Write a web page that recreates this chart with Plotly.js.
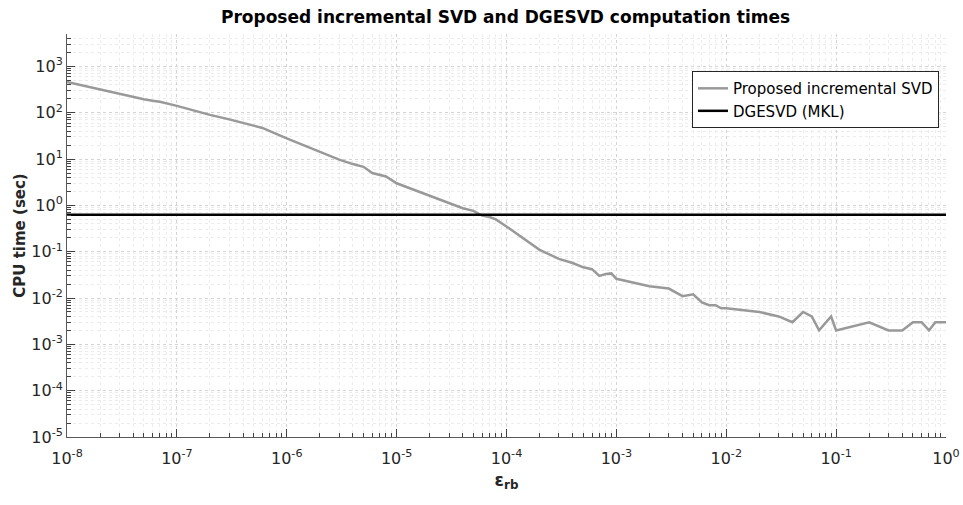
<!DOCTYPE html>
<html>
<head>
<meta charset="utf-8">
<script src="https://cdn.plot.ly/plotly-3.0.1.min.js"></script>
<style>html,body{margin:0;padding:0;background:#fff;}#chart{width:963px;height:505px;}</style>
</head>
<body>
<div id="chart"></div>
<script>
// Data
const epsRb = [1e-8, 2e-8, 4e-8, 5e-8, 6e-8, 7e-8, 1e-7, 2e-7, 3e-7, 6e-7, 1e-6, 2e-6, 3e-6, 4e-6, 5e-6, 6e-6, 7e-6, 8e-6, 1e-5, 2e-5, 3e-5, 4e-5, 5e-5, 6e-5, 7e-5, 8e-5, 1e-4, 2e-4, 3e-4, 4e-4, 5e-4, 6e-4, 7e-4, 8e-4, 9e-4, 1e-3, 2e-3, 3e-3, 4e-3, 5e-3, 6e-3, 7e-3, 8e-3, 9e-3, 1e-2, 2e-2, 3e-2, 4e-2, 5e-2, 6e-2, 7e-2, 9e-2, 1e-1, 2e-1, 3e-1, 4e-1, 5e-1, 6e-1, 7e-1, 8e-1, 1];
const incrementalSvdTime = [460, 313, 215, 195, 182, 172, 141, 90, 72, 47, 28, 14.6, 9.7, 7.8, 6.8, 5.0, 4.6, 4.2, 3.0, 1.6, 1.12, 0.87, 0.76, 0.60, 0.56, 0.50, 0.35, 0.11, 0.07, 0.057, 0.046, 0.042, 0.030, 0.033, 0.034, 0.026, 0.018, 0.016, 0.011, 0.012, 0.008, 0.007, 0.007, 0.006, 0.006, 0.005, 0.004, 0.003, 0.005, 0.004, 0.002, 0.004, 0.002, 0.003, 0.002, 0.002, 0.003, 0.003, 0.002, 0.003, 0.003];
const dgesvdX = [1e-8, 1];
const dgesvdTime = [0.63, 0.63];
const seriesNames = ["Proposed incremental SVD", "DGESVD (MKL)"];

const xTickVals = [1e-8, 1e-7, 1e-6, 1e-5, 1e-4, 1e-3, 1e-2, 1e-1, 1];
const xTickExps = ["-8", "-7", "-6", "-5", "-4", "-3", "-2", "-1", "0"];
const yTickVals = [1e-5, 1e-4, 1e-3, 1e-2, 1e-1, 1, 10, 100, 1000];
const yTickExps = ["-5", "-4", "-3", "-2", "-1", "0", "1", "2", "3"];

const FONT = "DejaVu Sans, Verdana, sans-serif";
const powLabel = e => "10<sup>" + e + "</sup>";

const axisCommon = {
  type: "log",
  tickmode: "array",
  showline: true,
  linecolor: "#595959",
  linewidth: 1,
  mirror: false,
  ticks: "inside",
  ticklen: 8,
  tickcolor: "#404040",
  tickfont: {family: FONT, size: 16, color: "#262626"},
  showgrid: true,
  gridcolor: "#d4d4d4",
  griddash: "dot",
  gridwidth: 1,
  zeroline: false,
  minor: {dtick: "D1", ticks: "inside", ticklen: 4, tickcolor: "#404040", showgrid: true, gridcolor: "#ececec", griddash: "dot", gridwidth: 1}
};

const data = [
  {x: epsRb, y: incrementalSvdTime, type: "scatter", mode: "lines", name: seriesNames[0],
   line: {color: "#999999", width: 2.5}},
  {x: dgesvdX, y: dgesvdTime, type: "scatter", mode: "lines", name: seriesNames[1],
   line: {color: "#000000", width: 2.5}}
];

const layout = {
  width: 963, height: 505,
  margin: {l: 67, r: 17, t: 34, b: 68},
  paper_bgcolor: "#ffffff",
  plot_bgcolor: "#ffffff",
  font: {family: FONT, color: "#262626"},
  title: {text: "<b>Proposed incremental SVD and DGESVD computation times</b>", font: {family: FONT, size: 17, color: "#000000"}, x: 0.525, xanchor: "center", y: 0.966, yanchor: "middle"},
  xaxis: Object.assign({}, axisCommon, {
    range: [-8, 0],
    tickvals: xTickVals,
    ticktext: xTickExps.map(powLabel),
    ticklabelstandoff: 7,
    title: {text: "<b>ε<sub>rb</sub></b>", font: {family: FONT, size: 17, color: "#262626"}, standoff: 6}
  }),
  yaxis: Object.assign({}, axisCommon, {
    range: [-5, 3.7],
    tickvals: yTickVals,
    ticktext: yTickExps.map(powLabel),
    title: {text: "<b>CPU time (sec)</b>", font: {family: FONT, size: 15, color: "#262626"}, standoff: 2}
  }),
  legend: {
    x: 0.992, xanchor: "right", y: 0.908, yanchor: "top",
    bgcolor: "#ffffff", bordercolor: "#262626", borderwidth: 1,
    font: {family: FONT, size: 15, color: "#000000"},
    tracegroupgap: 0
  },
  showlegend: true
};

Plotly.newPlot("chart", data, layout, {displayModeBar: false, staticPlot: true});
</script>
</body>
</html>
